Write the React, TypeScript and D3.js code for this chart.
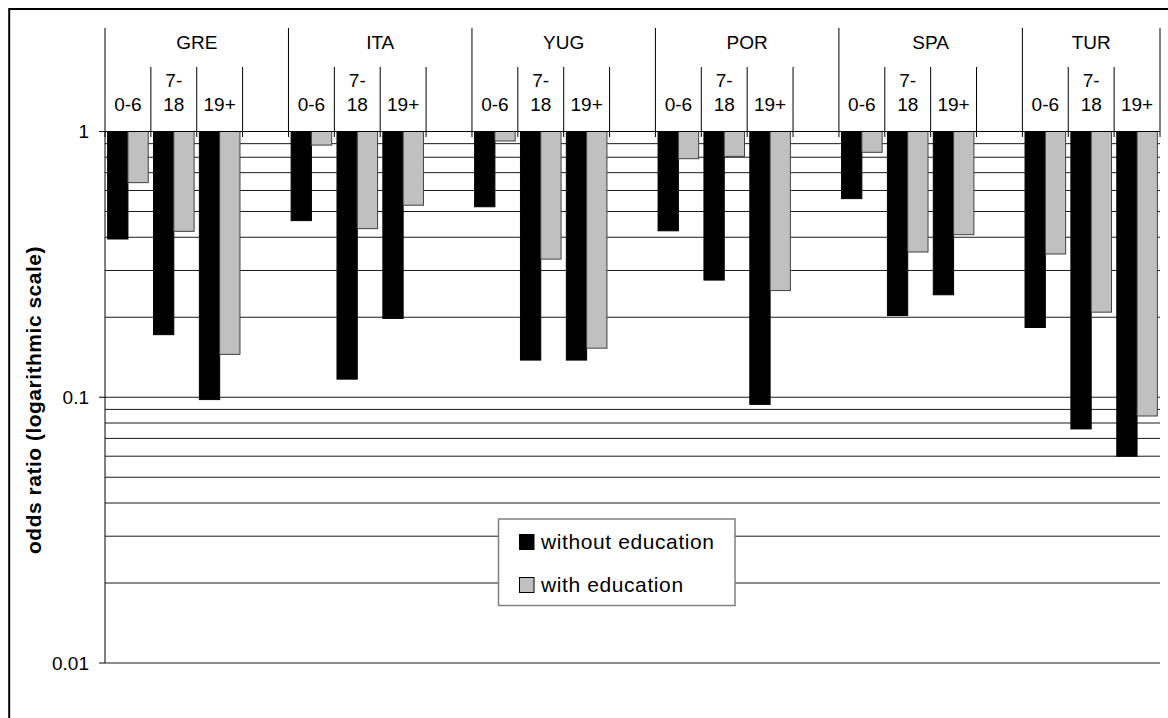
import React from "react";
import * as d3 from "d3";

const countries = ["GRE", "ITA", "YUG", "POR", "SPA", "TUR"];
const ageGroups = ["0-6", "7-18", "19+"];
const ageLabelLines: Record<string, string[]> = { "0-6": ["0-6"], "7-18": ["7-", "18"], "19+": ["19+"] };
const seriesNames = ["without education", "with education"];
const seriesColors = ["#000000", "#c0c0c0"];
// values per country, age group order 0-6, 7-18, 19+
const withoutEducation = [
  0.394, 0.172, 0.098,
  0.462, 0.117, 0.198,
  0.521, 0.138, 0.138,
  0.423, 0.276, 0.094,
  0.559, 0.203, 0.243,
  0.183, 0.076, 0.060,
];
const withEducation = [
  0.642, 0.421, 0.145,
  0.889, 0.431, 0.528,
  0.921, 0.331, 0.153,
  0.790, 0.806, 0.252,
  0.835, 0.352, 0.409,
  0.346, 0.209, 0.085,
];
const yTickLabels = [1, 0.1, 0.01];
const yTitle = "odds ratio (logarithmic scale)";

const W = 1168;
const H = 718;
const FONT = "'Liberation Sans', Arial, sans-serif";

export default function App() {
  const left = 105;
  const right = 1160;
  const top = 131.5;
  const bottom = 663;

  // slots: each country has 3 age groups + 1 blank, except the last
  const slots: string[] = [];
  countries.forEach((c, i) => {
    ageGroups.forEach((a) => slots.push(`${c}|${a}`));
    if (i < countries.length - 1) slots.push(`${c}|gap`);
  });

  const x = d3.scaleBand<string>().domain(slots).range([left, right]).padding(0);
  const cw = x.bandwidth();
  const xInner = d3.scaleBand<string>().domain(seriesNames).range([0, cw]).paddingInner(0).paddingOuter(0.13);
  const y = d3.scaleLog().domain([0.01, 1]).range([bottom, top]);
  const gridVals = y.ticks();

  const seriesData = [withoutEducation, withEducation];

  const bars: JSX.Element[] = [];
  countries.forEach((c, ci) => {
    ageGroups.forEach((a, ai) => {
      const slotX = x(`${c}|${a}`)!;
      seriesNames.forEach((s, si) => {
        const v = seriesData[si][ci * ageGroups.length + ai];
        const bx = slotX + xInner(s)!;
        const y1 = y(1);
        const y2 = y(v);
        bars.push(
          <rect
            key={`${c}-${a}-${s}`}
            x={bx}
            y={y1}
            width={xInner.bandwidth()}
            height={y2 - y1}
            fill={seriesColors[si]}
            stroke={si === 0 ? "#000" : "#404040"}
            strokeWidth={1}
          />
        );
      });
    });
  });

  // header dividers
  const dividers: JSX.Element[] = [];
  slots.forEach((s, i) => {
    const isCountryStart = i % 4 === 0;
    const xx = x(s)!;
    dividers.push(
      <line key={`d${i}`} x1={xx} x2={xx} y1={isCountryStart ? 28 : 67} y2={137} stroke="#000" strokeWidth={1} />
    );
  });
  dividers.push(<line key="dend" x1={right} x2={right} y1={28} y2={137} stroke="#000" strokeWidth={1} />);

  const countryLabels = countries.map((c, ci) => {
    const x0 = x(`${c}|${ageGroups[0]}`)!;
    const last = ci < countries.length - 1 ? x(`${c}|gap`)! + cw : right;
    return (
      <text key={c} x={(x0 + last) / 2} y={48.5} textAnchor="middle" fontSize={19} fontFamily={FONT} fill="#000">
        {c}
      </text>
    );
  });

  const ageLabels: JSX.Element[] = [];
  countries.forEach((c) => {
    ageGroups.forEach((a) => {
      const cx = x(`${c}|${a}`)! + cw / 2;
      const lines = ageLabelLines[a];
      lines.forEach((ln, li) => {
        const by = 111 - (lines.length - 1 - li) * 24;
        ageLabels.push(
          <text key={`${c}-${a}-${li}`} x={cx} y={by} textAnchor="middle" fontSize={19} fontFamily={FONT} fill="#000">
            {ln}
          </text>
        );
      });
    });
  });

  const legendX = 498.5;
  const legendY = 519;
  const legendW = 236.5;
  const legendH = 86.5;

  return (
    <svg
      width={W}
      height={H}
      style={{ position: "fixed", left: 0, top: 0, background: "#fff" }}
      xmlns="http://www.w3.org/2000/svg"
    >
      <rect x={0} y={0} width={W} height={H} fill="#fff" />
      <rect x={9.2} y={9} width={W + 50} height={H + 50} fill="none" stroke="#000" strokeWidth={2} />

      {/* gridlines */}
      {gridVals.map((v, i) => (
        <line key={`g${i}`} x1={left} x2={right} y1={y(v)} y2={y(v)} stroke="#1a1a1a" strokeWidth={1} />
      ))}

      {/* y ticks */}
      {yTickLabels.map((v) => (
        <g key={`t${v}`}>
          <line x1={99} x2={left} y1={y(v)} y2={y(v)} stroke="#000" strokeWidth={1} />
          <text x={89} y={y(v) + 6.8} textAnchor="end" fontSize={19} fontFamily={FONT} fill="#000">
            {String(v)}
          </text>
        </g>
      ))}

      {/* y axis line */}
      <line x1={left} x2={left} y1={top} y2={bottom} stroke="#000" strokeWidth={1} />

      {bars}

      {/* category axis at 1 */}
      <line x1={99} x2={right} y1={y(1)} y2={y(1)} stroke="#000" strokeWidth={1} />
      {dividers}
      {countryLabels}
      {ageLabels}

      {/* y title */}
      <text
        transform={`translate(41,400) rotate(-90)`}
        textAnchor="middle"
        fontSize={21}
        fontWeight="bold"
        letterSpacing={0.5}
        fontFamily={FONT}
        fill="#000"
      >
        {yTitle}
      </text>

      {/* legend */}
      <rect x={legendX} y={legendY} width={legendW} height={legendH} fill="#fff" stroke="#808080" strokeWidth={1.5} />
      {seriesNames.map((s, i) => (
        <g key={s}>
          <rect
            x={519.5}
            y={534.5 + i * 43}
            width={14.5}
            height={15}
            fill={seriesColors[i]}
            stroke="#000"
            strokeWidth={1}
          />
          <text x={541} y={548.5 + i * 43} fontSize={21} letterSpacing={0.6} fontFamily={FONT} fill="#000">
            {s}
          </text>
        </g>
      ))}
    </svg>
  );
}
